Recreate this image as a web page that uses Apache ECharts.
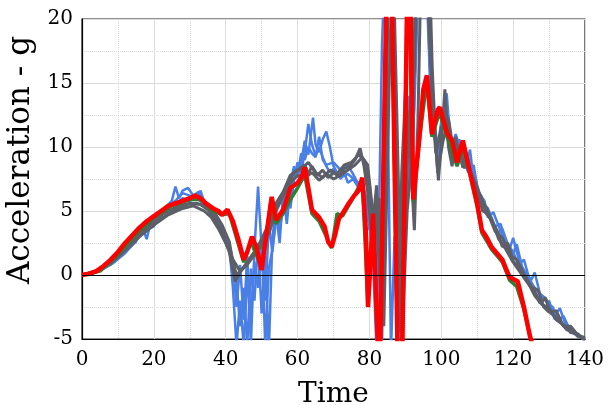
<!DOCTYPE html>
<html><head><meta charset="utf-8">
<script src="https://cdn.jsdelivr.net/npm/echarts@6/dist/echarts.min.js"></script>
<style>html,body{margin:0;padding:0;background:#fff}#c{width:616px;height:405px}</style>
</head><body><div id="c"></div>
<script>
const xTicks = [0, 20, 40, 60, 80, 100, 120, 140];
const yTicks = [-5, 0, 5, 10, 15, 20];
const blue1 = [[0,0],[3,0.1],[6,0.5],[9,1.0],[12,1.8],[15,2.6],[17,3.6],[18,2.8],[19,4.0],[21,4.6],[23,5.2],[25,5.8],[26,6.9],[27,6.0],[28,6.6],[29.5,6.8],[31,6.2],[32.5,6.5],[34,5.8],[36,5.2],[38,4.4],[40,3.2],[41.5,1.8],[43,-0.5],[44,-4],[45,-1],[46,-5.5],[47,0.5],[48,-2],[49,2.5],[50,-3],[51,1.5],[52,-6],[53,3],[54,5],[55,2.5],[56,6.5],[57,4],[58,7],[59,8.5],[60,7.6],[61,8.8],[62,10.5],[63,9.4],[64.3,12.3],[65,10.2],[66,9.6],[67,10.6],[68,11.2],[69,10],[70,8.5],[71,8],[72,7.5],[73,8.0],[74,7.2],[75.5,7.5],[77,6.8],[78,7.3],[79.5,5.5],[80.5,3.2],[82,-1],[83,6],[84,-2],[85.3,26],[86.5,20],[87.5,-3],[88.8,0.5],[90,15],[91,6.5],[92.5,13],[94,26],[95.5,26],[97,14],[98,11.2],[99,8.5],[100,11.8],[101.5,14.2],[102.5,10.5],[104,9.2],[105,10.6],[106.5,8.3],[108,9.8],[109,7.4],[110.5,6.4],[112,5.8],[113,4.5],[114.5,4.9],[116,3.8],[117.5,2.7],[119,2.0],[120,2.9],[121.5,1.3],[123,0.3],[125,-0.6],[127,-1.8],[129,-2.6],[130,-2.0],[131.5,-3.4],[133,-3.6],[135,-4.2],[137,-4.5],[139,-4.9],[140,-5.0]];
const blue2 = [[0,0],[3,0.2],[6,0.6],[9,1.1],[12,1.9],[15,2.9],[18,3.8],[20,4.3],[22,4.6],[24,5.4],[26,5.8],[28,6.4],[30,6.2],[32,5.9],[33,6.6],[34,5.7],[36,5.0],[38,4.1],[40,2.8],[42,1.0],[43,-2.5],[44,0.8],[45,-3.5],[46,1.5],[47,-5.5],[48,2.0],[49,6.9],[50,2.0],[51,-2],[52,4.0],[53,1.8],[54,4.8],[55,3.4],[56,5.5],[57,6.8],[58,5.2],[59,7.4],[60,8.8],[61,8.0],[62,9.6],[63,11.8],[64,10.2],[65,9.3],[66,10.0],[67,9.2],[68,8.5],[69,8.0],[70,8.3],[72,7.6],[74,7.9],[76,7.4],[78,7.0],[79,6.0],[80,3.5],[81,5.0],[82,2],[83.5,-6],[85,26],[86,25],[87.5,2],[88.5,0],[89.5,9],[91,14],[92,8.5],[93.5,26],[95.5,26],[97,15],[98,11.5],[99,9.0],[100.5,12.4],[102,11.2],[103,9.8],[104.5,10.4],[106,8.4],[107.5,9.2],[109,8.2],[110,7.0],[111.5,5.6],[113,5.2],[115,3.8],[116.5,4.0],[118,2.6],[120,1.6],[121,2.4],[122.5,0.6],[124,0.0],[125,-0.4],[126,0.2],[127.5,-1.5],[129,-1.8],[130.5,-2.8],[132,-3.0],[133,-2.6],[134.5,-3.8],[136,-4.3],[138,-4.6],[140,-5.2]];
const blue3 = [[0,0],[4,0.2],[8,0.8],[12,1.7],[16,3.0],[18,3.5],[20,3.8],[22,4.8],[24,5.3],[26,5.5],[28,6.0],[30,5.8],[32,6.0],[34,5.5],[36,4.9],[38,4.3],[40,3.0],[41,2.2],[42,-1],[43,-5.5],[44,-2],[45,-5.5],[46,-0.5],[47,-3],[48,1],[49,-1],[50,3],[51,-5.5],[52,0.5],[53,2],[54,4.2],[55,4],[56,5.6],[57,6.5],[58,6],[59,7.5],[60,7.8],[61,9.5],[62,9.0],[63,10.0],[64,9.5],[65,9.2],[66,10.8],[67,9.0],[68,8.6],[70,8.8],[72,8.2],[74,8.6],[76,7.6],[77,7.0],[78,6.5],[79,5],[80,4],[81,1],[82,-6],[83.5,18],[84.5,26],[86,-6],[87,3],[88,-6],[89.5,10],[90.5,6],[92,12],[93,26],[96,26],[97,19],[98,12],[99,10],[100,12.0],[101.5,13.2],[103,10.2],[104,11],[106,9.2],[107.5,8.0],[109,8.6],[110.5,6.0],[112,5.4],[114,4.4],[115.5,3.2],[117,3.6],[118.5,2.4],[120,1.8],[121.5,0.8],[123,1.2],[124.5,-0.3],[126,-1.0],[128,-1.6],[129.5,-2.2],[131,-2.5],[132.5,-3.6],[134,-3.2],[136,-4.4],[138,-4.8],[140,-5.0]];
const gray1 = [[0,0],[3,0.2],[6,0.6],[9,1.3],[12,2.2],[15,3.0],[18,3.8],[21,4.5],[24,5.0],[27,5.4],[30,5.6],[33,5.5],[35,5.1],[37,4.4],[39,3.4],[41,1.8],[42.6,-0.5],[44,0.2],[46,1.0],[48,1.8],[50,2.2],[52,4.0],[54,5.6],[56,6.5],[58,7.8],[60,8.2],[62,8.6],[63,7.9],[64,8.5],[65.5,7.8],[67,8.2],[68.5,7.6],[70,8.0],[71.5,7.7],[73,8.3],[74.5,8.5],[76,9.0],[77.4,9.9],[78.5,8.5],[79.5,6.5],[80.5,3.5],[81.5,5.5],[82.5,2],[83.5,-3],[84.5,10],[85.5,26],[87,14],[88,-4.5],[89,8],[90,14],[91.5,9],[92.5,3.5],[93.5,12],[94.5,26],[96.5,26],[97.5,16],[98.5,10],[99.2,7.4],[100.2,11],[101,14.5],[102,10],[103,8.5],[104,10.8],[105,9.2],[106.5,9.8],[108,8],[109.5,7.2],[111,6],[112.5,5.3],[114,4.2],[115.5,3.5],[117,2.2],[118.5,2.5],[120,1.1],[121.5,0.6],[123,-0.2],[124.5,-0.8],[126,-1.3],[127.5,-2.2],[129,-1.8],[130.5,-3.0],[132,-3.3],[133.5,-3.8],[135,-4.3],[136.5,-4.2],[138,-4.8],[140,-5.0]];
const gray2 = [[0,0],[4,0.3],[8,0.9],[12,1.9],[16,3.0],[20,3.9],[24,4.7],[28,5.2],[31,5.4],[34,5.0],[36,4.5],[38,3.6],[40,2.5],[42,1.2],[44,0.3],[46,0.8],[48,1.6],[50,2.8],[52,3.2],[54,5.0],[56,6.2],[58,7.2],[60,7.8],[62,7.6],[64,8.0],[66,7.4],[68,7.9],[70,7.5],[72,7.8],[74,8.2],[76,8.6],[78,9.2],[79.5,8.6],[80.5,6],[81.5,3],[82.5,6],[83.5,-2],[85,24],[86.5,26],[88,-3],[89.5,2],[91,12],[92.5,16],[93.5,26],[95,26],[96.5,24],[97.5,13],[98.5,9.5],[100,11.5],[101.5,12.5],[103,9.2],[104.5,10.2],[106,8.4],[107.5,8.8],[109,7.0],[111,6.2],[112.5,4.8],[114,4.3],[116,2.8],[118,2.0],[120,1.0],[122,0.2],[124,-0.5],[126,-1.6],[128,-2.3],[130,-2.6],[132,-3.5],[134,-3.9],[136,-4.5],[138,-4.6],[140,-5.1]];
const gray3 = [[0,0],[5,0.4],[10,1.4],[14,2.6],[18,3.6],[22,4.4],[26,5.1],[29,5.5],[32,5.6],[35,5.3],[37,4.8],[39,3.9],[41,2.6],[42,1.0],[43,0.0],[45,0.6],[47,1.4],[49,2.2],[51,3.4],[53,4.5],[55,5.8],[57,7.0],[59,8.0],[61,8.3],[63,8.8],[65,8.0],[67,7.6],[69,8.2],[71,7.9],[73,8.6],[75,8.8],[77,9.4],[78.5,9.0],[80,7.0],[81,4.2],[82,7],[83,0],[84,-4],[85.5,15],[86.5,26],[88,8],[89,-5.5],[90.5,5],[92,10],[93,26],[95.5,26],[97,17],[98,12],[99,8],[100.5,10.5],[102,12.2],[103.5,9.5],[105,9.9],[106.5,8.6],[108,8.2],[110,6.6],[111.5,5.0],[113,4.8],[115,3.4],[117,2.9],[119,1.6],[121,1.2],[123,0.1],[125,-0.9],[127,-1.2],[128.5,-2.5],[130,-2.9],[132,-2.8],[134,-4.0],[136,-4.0],[138,-4.7],[140,-4.9]];
const green1 = [[0,0],[5,0.3],[10,1.6],[15,3.2],[20,4.5],[25,5.4],[30,5.9],[33,5.9],[36,5.1],[39,4.7],[41,4.8],[43,2.9],[45,1.0],[47,2.6],[50,0.6],[52.5,5.6],[54,4.0],[56,4.8],[58,5.9],[60,6.8],[62,7.8],[64,4.8],[66,4.2],[69.5,2.1],[71,4.8],[72.5,4.6],[75,5.8],[78,7.4],[79.6,-2.3],[81,4.6],[82.8,-9],[85,26],[86,26],[88,-9],[89,-9],[90.7,26],[92.2,5.7],[94,10.8],[96,15.2],[97.4,10.8],[99.5,12.7],[101.6,10.8],[104.4,8.5],[106,10.0],[108,7.8],[110,5.3],[111.3,3.3],[114,2.0],[117,1.0],[119,-0.4],[121,-0.9],[123,-2.7],[125,-5.2]];
const red1 = [[0,0],[2,0.1],[4,0.3],[6,0.7],[8,1.2],[10,1.8],[12,2.5],[14,3.1],[16,3.7],[18,4.2],[20,4.6],[22,5.0],[24,5.4],[26,5.6],[28,5.8],[30,6.0],[31.5,6.2],[33,6.0],[34.5,5.6],[36.5,5.2],[38,5.0],[39,4.7],[40.5,5.1],[42,4.2],[43.5,2.8],[45,1.2],[46,1.8],[47.3,3.0],[48.5,2.2],[50,0.4],[51,2.5],[52.8,6.1],[54,4.3],[56,5.1],[58,6.8],[60,7.2],[61,7.6],[62,8.4],[63,6.8],[64,5.1],[66,4.5],[67.5,3.8],[68.5,2.6],[69.5,2.2],[70.5,3.2],[71.5,4.4],[72.5,4.8],[74,5.5],[75.5,6.1],[77,6.6],[78,7.6],[79,3.5],[79.6,-2.5],[80.3,1.0],[81,4.8],[82.8,-9],[85,26],[86,26],[88,-9],[89,-9],[90.7,26],[91.5,20],[92.2,5.9],[94,11],[95,14.5],[96,15.6],[97.4,11.0],[99,12.9],[99.6,13.1],[101.6,11.1],[103,10.5],[104.4,8.8],[106,10.5],[108,8.0],[110,5.6],[111.3,3.5],[112.5,3.0],[114,2.2],[117,1.2],[118,0.5],[119,-0.15],[121.3,-0.5],[123,-2.5],[124.7,-4.8],[126,-6]];

const BLUE = '#4a7fe6', GRAY = '#5c5e68', GREEN = '#2e7d32', RED = '#ff0000';
const FONT = 'DejaVu Serif';
function mk(data, color, width, extra) {
  return Object.assign({
    type: 'line', data: data, showSymbol: false, symbol: 'none', silent: true,
    lineStyle: { color: color, width: width }, itemStyle: { color: color },
    clip: true, animation: false
  }, extra || {});
}
const chart = echarts.init(document.getElementById('c'), null, { renderer: 'canvas' });
chart.setOption({
  animation: false,
  backgroundColor: '#fff',
  grid: { left: 82, top: 19, right: 31, bottom: 66, show: true, borderColor: '#222', borderWidth: 1.2,
          containLabel: false, outerBoundsMode: 'none' },
  xAxis: {
    type: 'value', min: xTicks[0], max: xTicks[xTicks.length - 1], interval: 20,
    name: 'Time', nameLocation: 'middle', nameGap: 42,
    nameTextStyle: { fontFamily: FONT, fontSize: 28, color: '#000' },
    axisLine: { onZero: false, lineStyle: { color: '#000', width: 1.2 } },
    axisTick: { show: false },
    axisLabel: { fontFamily: FONT, fontSize: 20, color: '#000', margin: 11 },
    splitLine: { show: true, lineStyle: { color: '#dcdcdc', width: 1 } },
    minorTick: { show: false, splitNumber: 2 },
    minorSplitLine: { show: true, lineStyle: { color: '#d6d6d6', type: 'dotted', width: 1 } }
  },
  yAxis: {
    type: 'value', min: yTicks[0], max: yTicks[yTicks.length - 1], interval: 5,
    name: 'Acceleration - g', nameLocation: 'middle', nameGap: 32, nameRotate: 90,
    nameTextStyle: { fontFamily: FONT, fontSize: 31, color: '#000', padding: [0, 0, 0, 38] },
    axisLine: { show: true, lineStyle: { color: '#000', width: 1.2 } },
    axisTick: { show: false },
    axisLabel: { fontFamily: FONT, fontSize: 20, color: '#000', margin: 9 },
    splitLine: { show: true, lineStyle: { color: '#dcdcdc', width: 1 } },
    minorTick: { show: false, splitNumber: 2 },
    minorSplitLine: { show: true, lineStyle: { color: '#d6d6d6', type: 'dotted', width: 1 } }
  },
  series: [
    mk(blue1, BLUE, 2.5, { markLine: { silent: true, symbol: 'none', label: { show: false },
      lineStyle: { color: '#000', width: 1.2, type: 'solid' }, data: [{ yAxis: 0 }] } }),
    mk(blue2, BLUE, 2.5),
    mk(blue3, BLUE, 2.5),
    mk(gray1, GRAY, 3),
    mk(gray2, GRAY, 3),
    mk(gray3, GRAY, 3),
    mk(green1, GREEN, 3.5),
    mk(red1, RED, 4.5)
  ]
});
</script>
</body></html>
